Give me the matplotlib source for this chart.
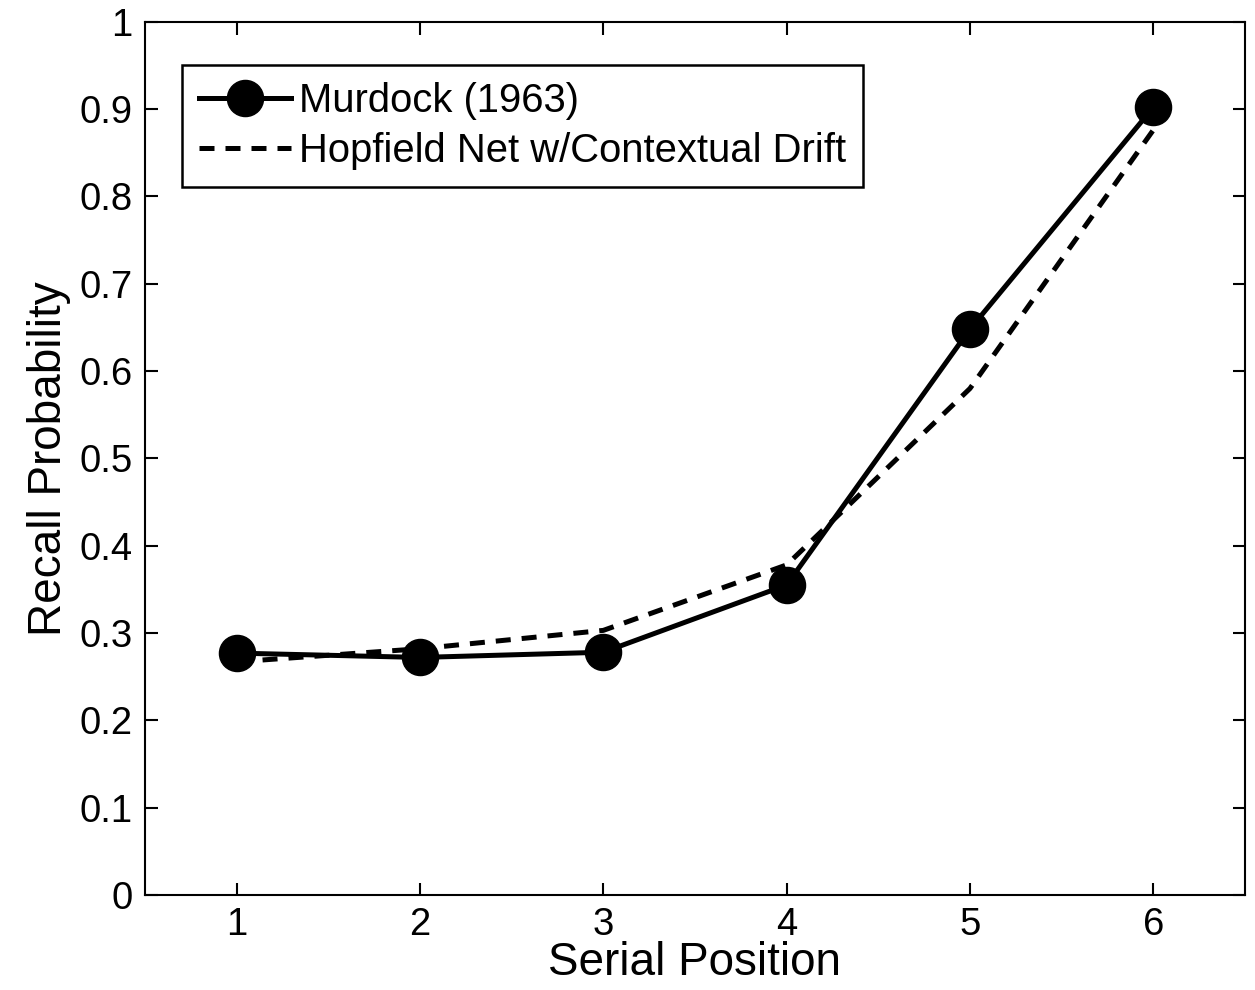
import matplotlib
matplotlib.use("Agg")
import matplotlib.pyplot as plt

plt.rcParams['font.family'] = ['Liberation Sans', 'DejaVu Sans']

# Serial position curve values
positions = [1, 2, 3, 4, 5, 6]
murdock = [0.277, 0.272, 0.278, 0.355, 0.648, 0.902]
hopfield = [0.267, 0.282, 0.303, 0.378, 0.580, 0.876]
yticks = [0, 0.1, 0.2, 0.3, 0.4, 0.5, 0.6, 0.7, 0.8, 0.9, 1]
ytick_labels = ["0", "0.1", "0.2", "0.3", "0.4", "0.5", "0.6", "0.7", "0.8", "0.9", "1"]

fig = plt.figure(figsize=(12.55, 9.9), dpi=100)
ax = fig.add_axes([0.1155, 0.096, 0.8765, 0.882])

ax.plot(positions, murdock, color="black", linewidth=3.6, marker="o",
        markersize=26, label="Murdock (1963)")
ax.plot(positions, hopfield, color="black", linewidth=3.6, linestyle=(0, (3, 2.2)),
        label="Hopfield Net w/Contextual Drift")

ax.set_xlim(0.5, 6.5)
ax.set_ylim(0, 1)
ax.set_xticks(positions)
ax.set_yticks(yticks)
ax.set_yticklabels(ytick_labels)
ax.tick_params(direction="in", top=True, right=True, length=9, width=1.5,
               labelsize=27.5, pad=9)
for s in ax.spines.values():
    s.set_linewidth(1.5)

ax.set_xlabel("Serial Position", fontsize=33, labelpad=-2)
ax.set_ylabel("Recall Probability", fontsize=33, labelpad=6)

leg = ax.legend(loc="upper left", bbox_to_anchor=(0.034, 0.95), fontsize=28.8,
                frameon=True, fancybox=False, edgecolor="black", framealpha=1,
                handlelength=2.3, handletextpad=0.2, borderpad=0.42,
                labelspacing=0.3, borderaxespad=0)
leg.get_frame().set_linewidth(1.8)

fig.savefig("out.png", dpi=100)
